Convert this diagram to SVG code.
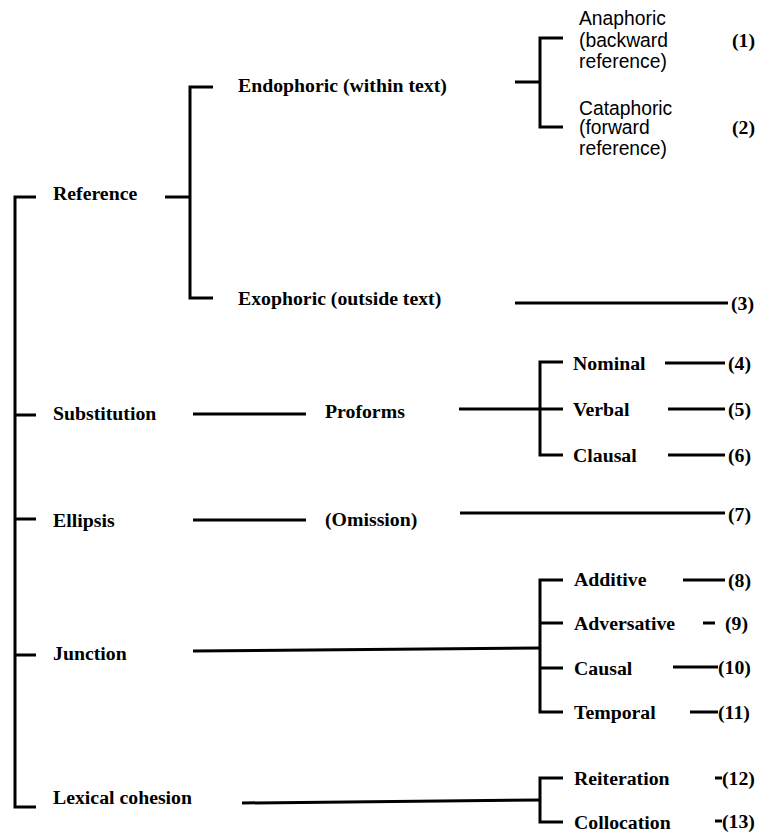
<svg xmlns="http://www.w3.org/2000/svg" width="783" height="833" viewBox="0 0 783 833">
<style>
  text { font-family: "Liberation Serif", "Times New Roman", serif; font-weight: bold; font-size: 19.8px; fill: #000; }
  text.sans { font-family: "Liberation Sans", Arial, sans-serif; font-weight: normal; font-size: 19.3px; }
  .ln { stroke: #000; stroke-width: 3; fill: none; }
</style>
<rect width="783" height="833" fill="#fff"/>
<g id="connectors">
  <path class="ln" d="M36,197 H15 V807 H36"/>
  <path class="ln" d="M15,415 H36 M15,519 H36 M15,655 H36"/>
  <path class="ln" d="M165,197 H190"/>
  <path class="ln" d="M213,87 H190 V298 H213"/>
  <path class="ln" d="M515,82 H540"/>
  <path class="ln" d="M563,38 H540 V127 H563"/>
  <path class="ln" d="M515,303 H728"/>
  <path class="ln" d="M193,414 H306"/>
  <path class="ln" d="M459,409 H563"/>
  <path class="ln" d="M563,362 H540 V455 H563"/>
  <path class="ln" d="M665,363 H725 M668,409 H725 M668,455 H725"/>
  <path class="ln" d="M193,520 H306"/>
  <path class="ln" d="M460,513 H725"/>
  <path class="ln" d="M193,651 L540,648"/>
  <path class="ln" d="M563,580 H540 V712 H563 M540,623 H563 M540,668 H563"/>
  <path class="ln" d="M683,580 H725 M703,623 H715 M673,667 H718 M690,712 H718"/>
  <path class="ln" d="M242,803 L540,800"/>
  <path class="ln" d="M563,778 H540 V822 H563"/>
  <path class="ln" d="M715,778 H722 M715,821 H722"/>
</g>
<g id="reference"><text x="53" y="200">Reference</text></g>
<g id="endophoric"><text x="238" y="92">Endophoric (within text)</text></g>
<g id="exophoric"><text x="238" y="305">Exophoric (outside text)</text></g>
<g id="anaphoric"><text class="sans" x="579" y="25">Anaphoric</text><text class="sans" x="579" y="47">(backward</text><text class="sans" x="579" y="68">reference)</text></g>
<g id="cataphoric"><text class="sans" x="579" y="115">Cataphoric</text><text class="sans" x="579" y="134">(forward</text><text class="sans" x="579" y="155">reference)</text></g>
<g id="n1"><text x="732" y="47">(1)</text></g>
<g id="n2"><text x="732" y="134">(2)</text></g>
<g id="n3"><text x="731" y="310">(3)</text></g>
<g id="substitution"><text x="53" y="420">Substitution</text></g>
<g id="proforms"><text x="325" y="418">Proforms</text></g>
<g id="nominal"><text x="573" y="370">Nominal</text></g>
<g id="verbal"><text x="573" y="416">Verbal</text></g>
<g id="clausal"><text x="573" y="462">Clausal</text></g>
<g id="n4"><text x="728" y="370">(4)</text></g>
<g id="n5"><text x="728" y="416">(5)</text></g>
<g id="n6"><text x="728" y="462">(6)</text></g>
<g id="ellipsis"><text x="53" y="527">Ellipsis</text></g>
<g id="omission"><text x="325" y="526">(Omission)</text></g>
<g id="n7"><text x="728" y="521">(7)</text></g>
<g id="junction"><text x="53" y="660">Junction</text></g>
<g id="additive"><text x="574" y="586">Additive</text></g>
<g id="adversative"><text x="574" y="630">Adversative</text></g>
<g id="causal"><text x="574" y="675">Causal</text></g>
<g id="temporal"><text x="574" y="719">Temporal</text></g>
<g id="n8"><text x="728" y="587">(8)</text></g>
<g id="n9"><text x="725" y="630">(9)</text></g>
<g id="n10"><text x="718" y="674">(10)</text></g>
<g id="n11"><text x="718" y="719">(11)</text></g>
<g id="lexical"><text x="53" y="804">Lexical cohesion</text></g>
<g id="reiteration"><text x="574" y="785">Reiteration</text></g>
<g id="collocation"><text x="574" y="829">Collocation</text></g>
<g id="n12"><text x="722" y="785">(12)</text></g>
<g id="n13"><text x="722" y="828">(13)</text></g>
</svg>
